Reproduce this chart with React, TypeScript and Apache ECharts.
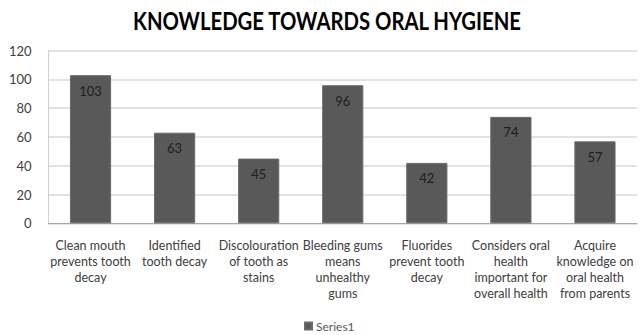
import React, { useEffect, useRef } from "react";
import * as echarts from "echarts";

const titleText = "KNOWLEDGE TOWARDS ORAL HYGIENE";
const categories = [
  "Clean mouth\nprevents tooth\ndecay",
  "Identified\ntooth decay",
  "Discolouration\nof tooth as\nstains",
  "Bleeding gums\nmeans\nunhealthy\ngums",
  "Fluorides\nprevent tooth\ndecay",
  "Considers oral\nhealth\nimportant for\noverall health",
  "Acquire\nknowledge on\noral health\nfrom parents",
];
const seriesName = "Series1";
const values = [103, 63, 45, 96, 42, 74, 57];
const yTicks = { min: 0, max: 120, interval: 20 };

const FONT = "Lato, 'Open Sans', sans-serif";

export default function App() {
  const ref = useRef<HTMLDivElement>(null);
  useEffect(() => {
    document.body.style.margin = "0";
    const chart = echarts.init(ref.current!, null, { renderer: "svg" });
    chart.setOption({
      animation: false,
      backgroundColor: "#ffffff",
      graphic: [
        {
          type: "text",
          x: 327,
          y: 21,
          scaleY: 1.22,
          style: {
            text: titleText,
            fontFamily: FONT,
            fontWeight: "bold",
            fontSize: 20.3,
            fill: "#000000",
            textAlign: "center",
            textVerticalAlign: "middle",
          },
        },
      ],
      legend: {
        data: [seriesName],
        left: 304,
        top: 320,
        icon: "rect",
        itemWidth: 7,
        itemHeight: 7,
        itemGap: 4,
        padding: 0,
        textStyle: { fontFamily: FONT, fontSize: 12, color: "#595959", padding: [0, 0, 0, -1] },
      },
      grid: { left: 48.5, right: 7, top: 50.7, bottom: 111.7, containLabel: false },
      xAxis: {
        type: "category",
        data: categories,
        axisLine: { lineStyle: { color: "#a6a6a6", width: 1 } },
        axisTick: { show: false },
        axisLabel: {
          interval: 0,
          fontFamily: FONT,
          fontSize: 12.5,
          lineHeight: 16,
          color: "#404040",
          margin: 14,
        },
      },
      yAxis: {
        type: "value",
        min: yTicks.min,
        max: yTicks.max,
        interval: yTicks.interval,
        axisLine: { show: true, lineStyle: { color: "#d0d0d0", width: 1 } },
        axisTick: { show: false },
        splitLine: { lineStyle: { color: "#d9d9d9", width: 1.5 } },
        axisLabel: { fontFamily: FONT, fontSize: 13, color: "#404040", margin: 17 },
      },
      series: [
        {
          name: seriesName,
          type: "bar",
          data: values,
          barWidth: "49%",
          itemStyle: { color: "#595959", borderColor: "#6b6b6b", borderWidth: 1 },
          label: {
            show: true,
            position: "insideTop",
            distance: 9,
            fontFamily: FONT,
            fontSize: 13,
            color: "#1e1e1e",
          },
        },
      ],
    });
    return () => chart.dispose();
  }, []);
  return <div ref={ref} style={{ width: 644, height: 335 }} />;
}
